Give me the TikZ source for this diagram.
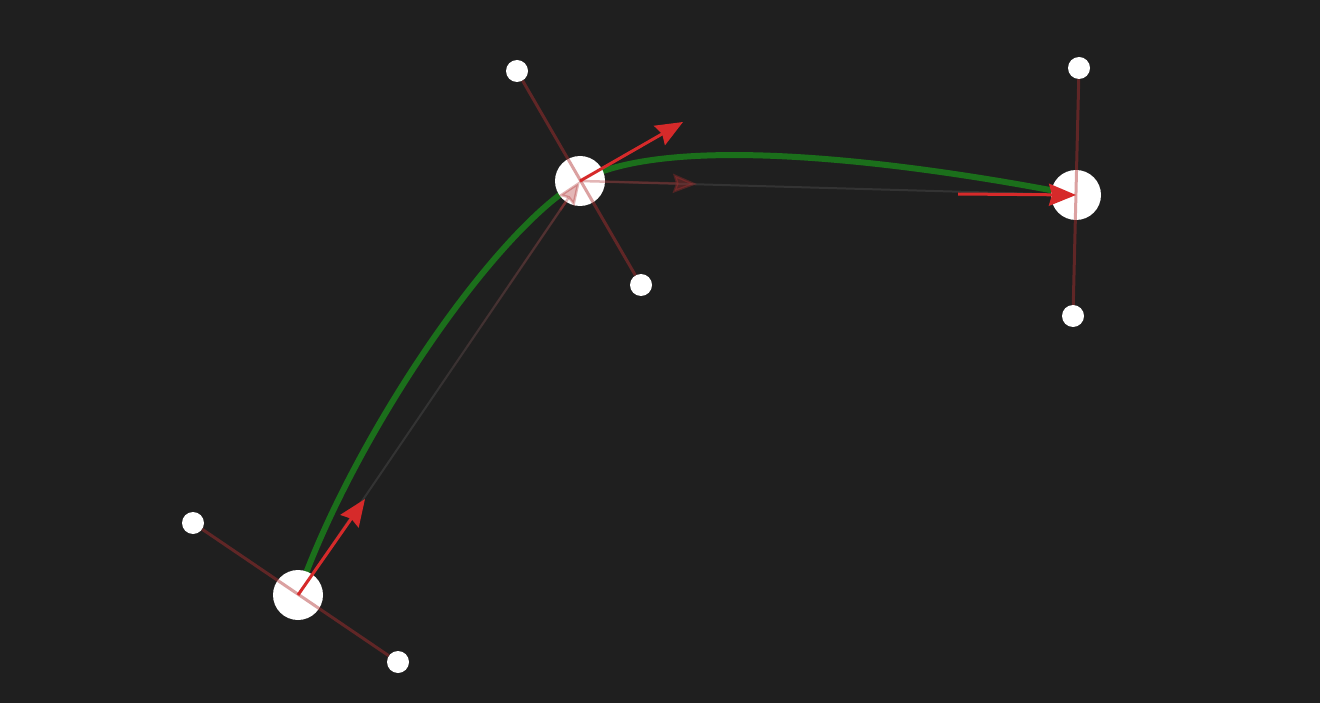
\documentclass[tikz,border=0pt]{standalone}
\usetikzlibrary{arrows.meta,calc}
\definecolor{bg}{HTML}{1F1F1F}
\definecolor{vred}{HTML}{D62A2A}
\definecolor{hred}{HTML}{B03030}
\definecolor{cgreen}{HTML}{1B6F1B}
\definecolor{fgray}{HTML}{333333}
\tikzset{
  anchorpt/.style={circle,fill=white,minimum size=50pt,inner sep=0pt},
  handlept/.style={circle,fill=white,minimum size=22pt,inner sep=0pt},
  handleline/.style={draw=hred,opacity=0.45,line width=3pt},
  velarrow/.style={draw=vred,line width=3pt,-{Stealth[length=27pt,width=22pt,inset=3pt]}},
  faintline/.style={draw=fgray,line width=2pt},
  faintseg/.style={draw=hred,line width=2.5pt},
  faintarrow/.style={draw=hred,opacity=0.35,line width=2.5pt,-{Stealth[length=24pt,width=19pt,inset=3pt]}},
  curve/.style={draw=cgreen,line width=6pt}
}
\begin{document}
\begin{tikzpicture}[x=1pt,y=-1pt]
\fill[bg] (0,0) rectangle (1320,703);
\useasboundingbox (0,0) rectangle (1320,703);
% anchor coordinates
\coordinate (c0) at (298,595);
\coordinate (c1) at (580,181);
\coordinate (c2) at (1076,195);
% green curve
\draw[curve] (c0) .. controls (352,440) and (492,232) .. (c1)
  .. controls (680,126) and (960,172) .. (c2);
% faint guide lines
\draw[faintline] (c0) -- (c1);
\draw[faintline] (c1) -- (c2);
% fading red over the guide line towards p1
\foreach \i in {0,...,9}{
  \pgfmathsetmacro\op{0.03*\i}
  \pgfmathsetmacro\ta{0.45+0.05*\i}
  \pgfmathsetmacro\tb{0.5+0.05*\i}
  \draw[faintseg,opacity=\op] ($(c0)!\ta!(c1)$) -- ($(c0)!\tb!(c1)$);
}
% circles
\node[anchorpt] (p0) at (c0) {};
\node[anchorpt] (p1) at (c1) {};
\node[anchorpt] (p2) at (c2) {};
\node[handlept] (h0a) at (193,523) {};
\node[handlept] (h0b) at (398,662) {};
\node[handlept] (h1a) at (517,71) {};
\node[handlept] (h1b) at (641,285) {};
\node[handlept] (h2a) at (1079,68) {};
\node[handlept] (h2b) at (1073,316) {};
% handle lines
\draw[handleline] (h0a) -- (h0b);
\draw[handleline] (h1a) -- (h1b);
\draw[handleline] (h2a) -- (h2b);
% faint arrows
\coordinate (f0) at ($(c0)!0.93!(c1)$);
\draw[faintarrow] (f0) -- (p1.center);
\coordinate (f1) at (697,184);
\draw[faintarrow] (p1.center) -- (f1);
% velocity arrows
\coordinate (v0) at (365,499);
\coordinate (v1) at (683,122);
\coordinate (v2s) at (958,194);
\draw[velarrow] (p0.center) -- (v0);
\draw[velarrow] (p1.center) -- (v1);
\draw[velarrow] (v2s) -- (p2.center);
\end{tikzpicture}
\end{document}
